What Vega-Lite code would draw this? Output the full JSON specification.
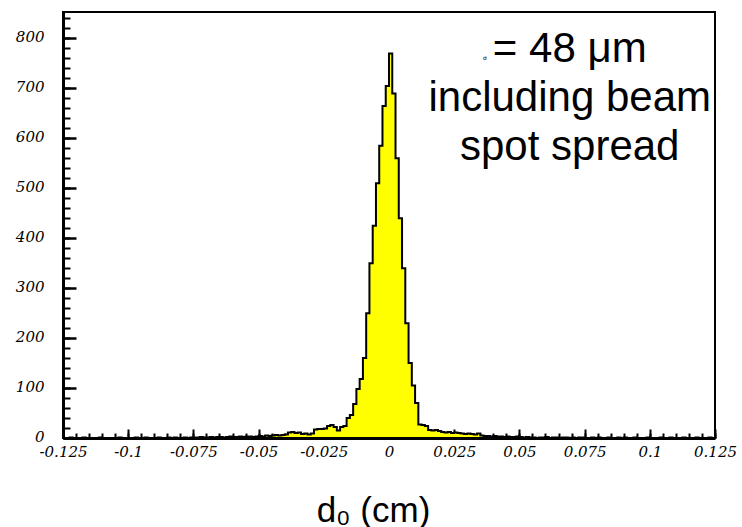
{
  "$schema": "https://vega.github.io/schema/vega-lite/v6.json",
  "width": 652,
  "height": 426,
  "autosize": {"type": "none"},
  "padding": {"left": 63, "top": 12, "right": 27, "bottom": 89},
  "background": "white",
  "config": {
    "view": {"stroke": "black", "strokeWidth": 2},
    "axis": {"grid": false, "labelFont": "DejaVu Serif", "labelFontStyle": "italic", "labelColor": "black", "tickColor": "black", "domainColor": "black", "zindex": 1}
  },
  "datasets": {
    "hist": [
      {"x": -0.125, "n": 0}, {"x": -0.12375, "n": 0}, {"x": -0.1225, "n": 1}, {"x": -0.12125, "n": 0}, {"x": -0.12, "n": 0},
      {"x": -0.11875, "n": 0}, {"x": -0.1175, "n": 1}, {"x": -0.11625, "n": 0}, {"x": -0.115, "n": 0}, {"x": -0.11375, "n": 0},
      {"x": -0.1125, "n": 0}, {"x": -0.11125, "n": 1}, {"x": -0.11, "n": 0}, {"x": -0.10875, "n": 0}, {"x": -0.1075, "n": 0},
      {"x": -0.10625, "n": 0}, {"x": -0.105, "n": 0}, {"x": -0.10375, "n": 1}, {"x": -0.1025, "n": 0}, {"x": -0.10125, "n": 0},
      {"x": -0.1, "n": 0}, {"x": -0.09875, "n": 0}, {"x": -0.0975, "n": 1}, {"x": -0.09625, "n": 0}, {"x": -0.095, "n": 0},
      {"x": -0.09375, "n": 1}, {"x": -0.0925, "n": 0}, {"x": -0.09125, "n": 0}, {"x": -0.09, "n": 0}, {"x": -0.08875, "n": 1},
      {"x": -0.0875, "n": 0}, {"x": -0.08625, "n": 0}, {"x": -0.085, "n": 1}, {"x": -0.08375, "n": 0}, {"x": -0.0825, "n": 1},
      {"x": -0.08125, "n": 0}, {"x": -0.08, "n": 0}, {"x": -0.07875, "n": 1}, {"x": -0.0775, "n": 0}, {"x": -0.07625, "n": 1},
      {"x": -0.075, "n": 1}, {"x": -0.07375, "n": 1}, {"x": -0.0725, "n": 2}, {"x": -0.07125, "n": 1}, {"x": -0.07, "n": 1},
      {"x": -0.06875, "n": 2}, {"x": -0.0675, "n": 1}, {"x": -0.06625, "n": 2}, {"x": -0.065, "n": 2}, {"x": -0.06375, "n": 1},
      {"x": -0.0625, "n": 2}, {"x": -0.06125, "n": 3}, {"x": -0.06, "n": 2}, {"x": -0.05875, "n": 2}, {"x": -0.0575, "n": 3},
      {"x": -0.05625, "n": 2}, {"x": -0.055, "n": 3}, {"x": -0.05375, "n": 3}, {"x": -0.0525, "n": 2}, {"x": -0.05125, "n": 3},
      {"x": -0.05, "n": 4}, {"x": -0.04875, "n": 3}, {"x": -0.0475, "n": 5}, {"x": -0.04625, "n": 4}, {"x": -0.045, "n": 5},
      {"x": -0.04375, "n": 6}, {"x": -0.0425, "n": 5}, {"x": -0.04125, "n": 6}, {"x": -0.04, "n": 7}, {"x": -0.03875, "n": 11},
      {"x": -0.0375, "n": 12}, {"x": -0.03625, "n": 10}, {"x": -0.035, "n": 11}, {"x": -0.03375, "n": 8}, {"x": -0.0325, "n": 9},
      {"x": -0.03125, "n": 7}, {"x": -0.03, "n": 9}, {"x": -0.02875, "n": 17}, {"x": -0.0275, "n": 18}, {"x": -0.02625, "n": 18},
      {"x": -0.025, "n": 19}, {"x": -0.02375, "n": 24}, {"x": -0.0225, "n": 26}, {"x": -0.02125, "n": 22}, {"x": -0.02, "n": 15},
      {"x": -0.01875, "n": 22}, {"x": -0.0175, "n": 24}, {"x": -0.01625, "n": 40}, {"x": -0.015, "n": 46}, {"x": -0.01375, "n": 68},
      {"x": -0.0125, "n": 98}, {"x": -0.01125, "n": 118}, {"x": -0.01, "n": 160}, {"x": -0.00875, "n": 250}, {"x": -0.0075, "n": 350},
      {"x": -0.00625, "n": 425}, {"x": -0.005, "n": 510}, {"x": -0.00375, "n": 585}, {"x": -0.0025, "n": 665}, {"x": -0.00125, "n": 705},
      {"x": 0, "n": 770}, {"x": 0.00125, "n": 690}, {"x": 0.0025, "n": 560}, {"x": 0.00375, "n": 440}, {"x": 0.005, "n": 340},
      {"x": 0.00625, "n": 230}, {"x": 0.0075, "n": 150}, {"x": 0.00875, "n": 105}, {"x": 0.01, "n": 70}, {"x": 0.01125, "n": 27},
      {"x": 0.0125, "n": 26}, {"x": 0.01375, "n": 24}, {"x": 0.015, "n": 16}, {"x": 0.01625, "n": 15}, {"x": 0.0175, "n": 16},
      {"x": 0.01875, "n": 14}, {"x": 0.02, "n": 12}, {"x": 0.02125, "n": 11}, {"x": 0.0225, "n": 12}, {"x": 0.02375, "n": 10},
      {"x": 0.025, "n": 11}, {"x": 0.02625, "n": 10}, {"x": 0.0275, "n": 9}, {"x": 0.02875, "n": 8}, {"x": 0.03, "n": 9},
      {"x": 0.03125, "n": 8}, {"x": 0.0325, "n": 7}, {"x": 0.03375, "n": 9}, {"x": 0.035, "n": 5}, {"x": 0.03625, "n": 4},
      {"x": 0.0375, "n": 4}, {"x": 0.03875, "n": 3}, {"x": 0.04, "n": 4}, {"x": 0.04125, "n": 3}, {"x": 0.0425, "n": 3},
      {"x": 0.04375, "n": 2}, {"x": 0.045, "n": 3}, {"x": 0.04625, "n": 2}, {"x": 0.0475, "n": 2}, {"x": 0.04875, "n": 3},
      {"x": 0.05, "n": 2}, {"x": 0.05125, "n": 1}, {"x": 0.0525, "n": 2}, {"x": 0.05375, "n": 1}, {"x": 0.055, "n": 1},
      {"x": 0.05625, "n": 0}, {"x": 0.0575, "n": 1}, {"x": 0.05875, "n": 1}, {"x": 0.06, "n": 2}, {"x": 0.06125, "n": 0},
      {"x": 0.0625, "n": 1}, {"x": 0.06375, "n": 1}, {"x": 0.065, "n": 0}, {"x": 0.06625, "n": 1}, {"x": 0.0675, "n": 1},
      {"x": 0.06875, "n": 0}, {"x": 0.07, "n": 1}, {"x": 0.07125, "n": 0}, {"x": 0.0725, "n": 1}, {"x": 0.07375, "n": 1},
      {"x": 0.075, "n": 0}, {"x": 0.07625, "n": 0}, {"x": 0.0775, "n": 1}, {"x": 0.07875, "n": 0}, {"x": 0.08, "n": 1},
      {"x": 0.08125, "n": 0}, {"x": 0.0825, "n": 0}, {"x": 0.08375, "n": 1}, {"x": 0.085, "n": 0}, {"x": 0.08625, "n": 0},
      {"x": 0.0875, "n": 1}, {"x": 0.08875, "n": 0}, {"x": 0.09, "n": 1}, {"x": 0.09125, "n": 0}, {"x": 0.0925, "n": 0},
      {"x": 0.09375, "n": 1}, {"x": 0.095, "n": 0}, {"x": 0.09625, "n": 0}, {"x": 0.0975, "n": 0}, {"x": 0.09875, "n": 1},
      {"x": 0.1, "n": 0}, {"x": 0.10125, "n": 0}, {"x": 0.1025, "n": 0}, {"x": 0.10375, "n": 1}, {"x": 0.105, "n": 0},
      {"x": 0.10625, "n": 0}, {"x": 0.1075, "n": 1}, {"x": 0.10875, "n": 0}, {"x": 0.11, "n": 0}, {"x": 0.11125, "n": 0},
      {"x": 0.1125, "n": 1}, {"x": 0.11375, "n": 0}, {"x": 0.115, "n": 0}, {"x": 0.11625, "n": 0}, {"x": 0.1175, "n": 1},
      {"x": 0.11875, "n": 0}, {"x": 0.12, "n": 0}, {"x": 0.12125, "n": 0}, {"x": 0.1225, "n": 1}, {"x": 0.12375, "n": 0},
      {"x": 0.125, "n": 0}
    ],
    "notes": [
      {"tx": 0.0693, "ty": 753, "label": ["= 48 μm", "including beam", "spot spread"]}
    ],
    "sigma": [
      {"tx": 0.0368, "ty": 757, "label": "σ"}
    ]
  },
  "layer": [
    {
      "data": {"name": "hist"},
      "mark": {"type": "area", "interpolate": "step-after", "fill": "#ffff00", "stroke": "black", "strokeWidth": 2, "fillOpacity": 1},
      "encoding": {
        "x": {
          "field": "x", "type": "quantitative",
          "scale": {"domain": [-0.125, 0.125], "nice": false, "zero": false},
          "axis": {
            "orient": "bottom",
            "values": [-0.125, -0.1, -0.075, -0.05, -0.025, 0, 0.025, 0.05, 0.075, 0.1, 0.125],
            "labelExpr": "replace(format(datum.value, '.3~f'), '−', '-')",
            "labelFontSize": 15, "labelBaseline": "top", "labelPadding": 15,
            "labelFlush": false, "labelOverlap": false, "labelBound": false,
            "tickSize": -9, "tickWidth": 2, "domainWidth": 3,
            "title": "d₀ (cm)", "titleFont": "Liberation Sans", "titleFontSize": 35, "titleFontWeight": "normal",
            "titleColor": "black", "titleX": 310, "titleY": 83, "titleAlign": "center", "titleBaseline": "alphabetic"
          }
        },
        "y": {
          "field": "n", "type": "quantitative",
          "scale": {"domain": [0, 853], "nice": false},
          "axis": {
            "orient": "left",
            "values": [0, 100, 200, 300, 400, 500, 600, 700, 800],
            "format": "d",
            "labelFontSize": 15, "labelPadding": 32, "labelBaseline": "middle", "labelOffset": -2,
            "labelFlush": false, "labelOverlap": false, "labelBound": false,
            "tickSize": -13, "tickWidth": 2.5, "domainWidth": 3,
            "title": null
          }
        }
      }
    },
    {
      "data": {"name": "hist"},
      "mark": {"type": "point", "opacity": 0},
      "encoding": {
        "x": {
          "field": "x", "type": "quantitative",
          "axis": {
            "orient": "bottom",
            "values": [-0.125, -0.12, -0.115, -0.11, -0.105, -0.1, -0.095, -0.09, -0.085, -0.08, -0.075, -0.07, -0.065, -0.06, -0.055, -0.05, -0.045, -0.04, -0.035, -0.03, -0.025, -0.02, -0.015, -0.01, -0.005, 0, 0.005, 0.01, 0.015, 0.02, 0.025, 0.03, 0.035, 0.04, 0.045, 0.05, 0.055, 0.06, 0.065, 0.07, 0.075, 0.08, 0.085, 0.09, 0.095, 0.1, 0.105, 0.11, 0.115, 0.12, 0.125],
            "labels": false, "domain": false, "tickSize": -5, "tickWidth": 2, "title": null
          }
        },
        "y": {
          "field": "n", "type": "quantitative",
          "axis": {
            "orient": "left",
            "values": [0, 20, 40, 60, 80, 100, 120, 140, 160, 180, 200, 220, 240, 260, 280, 300, 320, 340, 360, 380, 400, 420, 440, 460, 480, 500, 520, 540, 560, 580, 600, 620, 640, 660, 680, 700, 720, 740, 760, 780, 800, 820, 840],
            "labels": false, "domain": false, "tickSize": -7, "tickWidth": 2, "title": null
          }
        }
      }
    },
    {
      "data": {"name": "notes"},
      "mark": {"type": "text", "font": "Liberation Sans", "fontSize": 42, "align": "center", "baseline": "alphabetic", "lineHeight": 49, "color": "black"},
      "encoding": {
        "x": {"field": "tx", "type": "quantitative", "axis": null},
        "y": {"field": "ty", "type": "quantitative", "axis": null},
        "text": {"field": "label"}
      }
    },
    {
      "data": {"name": "sigma"},
      "mark": {"type": "text", "font": "DejaVu Sans", "fontSize": 6, "align": "center", "baseline": "alphabetic", "color": "black"},
      "encoding": {
        "x": {"field": "tx", "type": "quantitative", "axis": null},
        "y": {"field": "ty", "type": "quantitative", "axis": null},
        "text": {"field": "label"}
      }
    }
  ],
  "resolve": {"axis": {"x": "independent", "y": "independent"}}
}
